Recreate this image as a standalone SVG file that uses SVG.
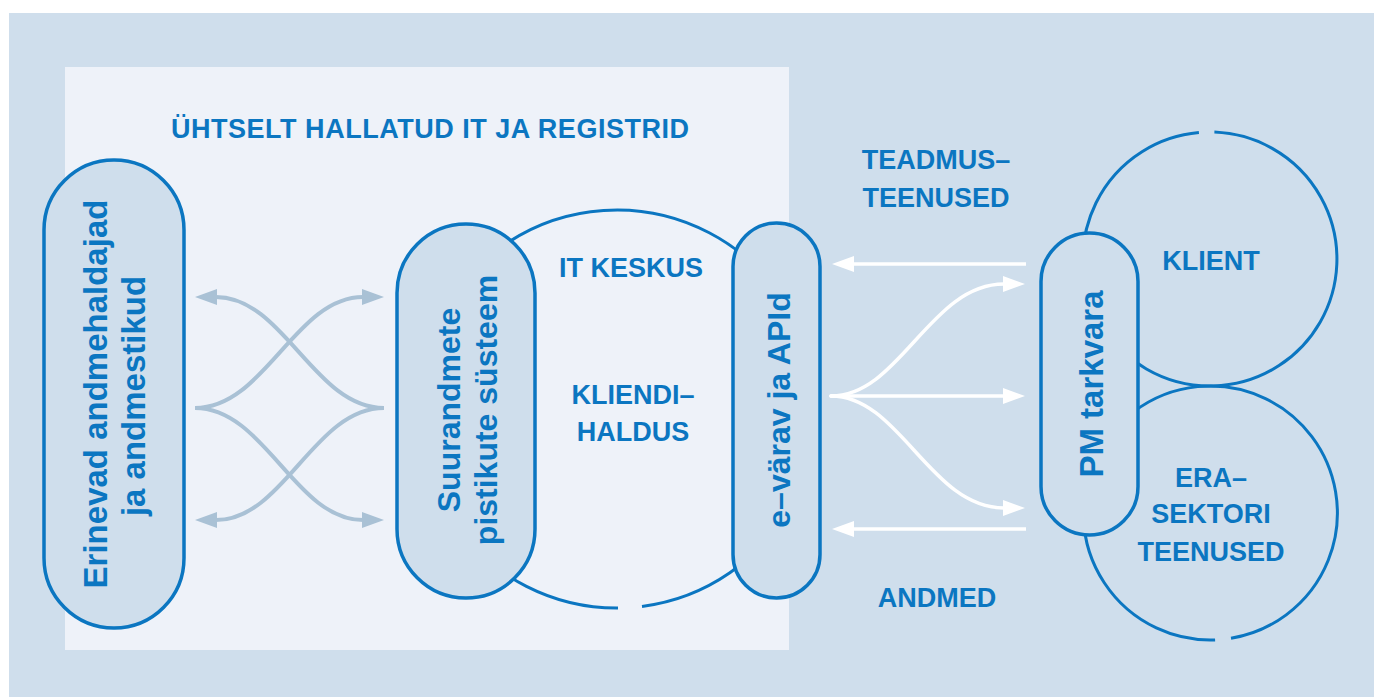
<svg xmlns="http://www.w3.org/2000/svg" width="1374" height="697" viewBox="0 0 1374 697">
<style>
.txt{font-family:"Liberation Sans",Arial,sans-serif;font-weight:bold;fill:#0b76c1}
.cap{font-size:27px;text-anchor:middle}
.pl{font-size:33px;text-anchor:middle}
.pill{fill:#cfdeec;stroke:#0b76c1;stroke-width:3.5}
.ring{fill:none;stroke:#0b76c1;stroke-width:3}
.ga{fill:none;stroke:#a9c1d5;stroke-width:4}
.wa{fill:none;stroke:#ffffff;stroke-width:3.5}
.fan{stroke-linecap:round}
</style>
<defs>
<marker id="ag" markerUnits="userSpaceOnUse" viewBox="0 0 22 16" refX="1" refY="8" markerWidth="22" markerHeight="16" orient="auto"><path d="M0,0L22,8L0,16z" fill="#a9c1d5"/></marker>
<marker id="aw" markerUnits="userSpaceOnUse" viewBox="0 0 22 16" refX="1" refY="8" markerWidth="22" markerHeight="16" orient="auto"><path d="M0,0L22,8L0,16z" fill="#ffffff"/></marker>
</defs>
<g id="background">
<rect x="0" y="0" width="1374" height="697" fill="#ffffff"/>
<rect x="9" y="13" width="1365" height="684" fill="#cfdeec"/>
<rect x="65" y="67" width="724" height="583" fill="#eef2f9"/>
</g>
<g id="zone-title">
<text class="txt cap" x="430" y="138" textLength="518" lengthAdjust="spacing">ÜHTSELT HALLATUD IT JA REGISTRID</text>
</g>
<g id="it-keskus">
<path class="ring" d="M618,608 A199,199 0 1 1 642,606.4"/>
<text class="txt cap" x="631" y="277">IT KESKUS</text>
<text class="txt cap" x="633" y="404">KLIENDI–</text>
<text class="txt cap" x="633" y="441">HALDUS</text>
</g>
<g id="klient">
<path class="ring" d="M1214.4,132.1 A127,127 0 1 1 1198.9,132.5"/>
<text class="txt cap" x="1211" y="270">KLIENT</text>
</g>
<g id="erasektori-teenused">
<path class="ring" d="M1215.1,639.9 A127,127 0 1 1 1231,638.3"/>
<text class="txt cap" x="1211" y="487">ERA–</text>
<text class="txt cap" x="1211" y="523">SEKTORI</text>
<text class="txt cap" x="1211" y="561">TEENUSED</text>
</g>
<g id="andmehaldajad">
<rect class="pill" x="44" y="160" width="140" height="468" rx="70"/>
<text class="txt pl" transform="translate(107,394) rotate(-90)">Erinevad andmehaldajad</text>
<text class="txt pl" transform="translate(145,396) rotate(-90)">ja andmestikud</text>
</g>
<g id="suurandmete">
<rect class="pill" x="397" y="224" width="138" height="374" rx="69"/>
<text class="txt pl" style="font-size:32px" transform="translate(460,410) rotate(-90)">Suurandmete</text>
<text class="txt pl" style="font-size:32px" transform="translate(497,410) rotate(-90)">pistikute süsteem</text>
</g>
<g id="e-värav">
<rect class="pill" x="733" y="223" width="87" height="375" rx="43.5"/>
<text class="txt pl" style="font-size:32px" transform="translate(790,410) rotate(-90)">e–värav ja APId</text>
</g>
<g id="pm-tarkvara">
<rect class="pill" x="1041" y="233" width="97" height="302" rx="48.5"/>
<text class="txt pl" transform="translate(1103,384) rotate(-90)">PM tarkvara</text>
</g>
<g id="flow-labels">
<text class="txt cap" x="936" y="169">TEADMUS–</text>
<text class="txt cap" x="936" y="207">TEENUSED</text>
<text class="txt cap" x="937" y="607">ANDMED</text>
</g>
<g id="connectors">
<path class="ga" d="M195,408 C265,408 295,297 363,297" marker-end="url(#ag)"/>
<path class="ga" d="M195,408 C265,408 295,520 363,520" marker-end="url(#ag)"/>
<path class="ga" d="M384,408 C314,408 284,297 216,297" marker-end="url(#ag)"/>
<path class="ga" d="M384,408 C314,408 284,520 216,520" marker-end="url(#ag)"/>
<path class="wa" d="M1026,264 L853,264" marker-end="url(#aw)"/>
<path class="wa" d="M1026,529 L853,529" marker-end="url(#aw)"/>
<path class="wa fan" d="M831,396 L1004,396" marker-end="url(#aw)"/>
<path class="wa fan" d="M831,396 C900,396 930,284 1004,284" marker-end="url(#aw)"/>
<path class="wa fan" d="M831,396 C900,396 930,508 1004,508" marker-end="url(#aw)"/>
</g>
</svg>
